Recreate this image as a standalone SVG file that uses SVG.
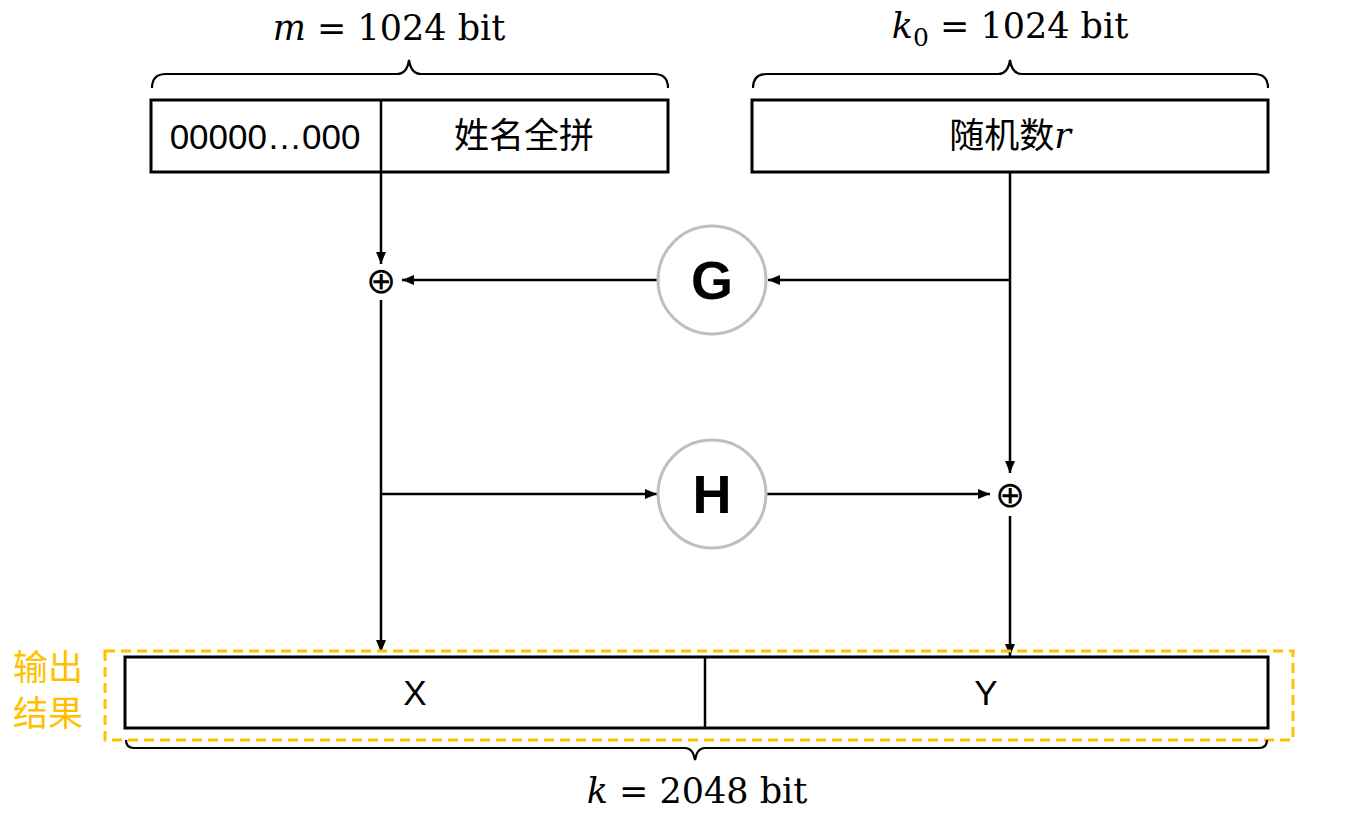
<svg xmlns="http://www.w3.org/2000/svg" width="1370" height="823" viewBox="0 0 1370 823">
<defs>
<marker id="ah" markerWidth="12" markerHeight="10" refX="12" refY="5" orient="auto" markerUnits="userSpaceOnUse">
<path d="M0,0 L12,5 L0,10 Z" fill="#000"/>
</marker>
<style>
.box{fill:#fff;stroke:#000;stroke-width:3}
.ln{fill:none;stroke:#000;stroke-width:2.5}
.br{fill:none;stroke:#000;stroke-width:2.2}
.sans{font-family:"Liberation Sans","Noto Sans CJK SC",sans-serif;font-size:35px;fill:#000}
.cjk{font-family:"Noto Sans CJK SC",sans-serif;font-size:35px;fill:#000}
.math{font-family:"DejaVu Serif","Liberation Serif",serif;font-size:35px;fill:#000}
.circ{fill:#fff;stroke:#bfbfbf;stroke-width:3}
.big{font-family:"Liberation Sans",Arial,sans-serif;font-weight:bold;font-size:54px;fill:#000}
.xor{font-family:"DejaVu Sans",sans-serif;font-size:36px;fill:#000}
.out{font-family:"Noto Sans CJK SC",sans-serif;font-size:35px;fill:#FFC000}
</style>
</defs>
<rect width="1370" height="823" fill="#fff"/>

<g id="connectors">
<line class="ln" x1="381" y1="172" x2="381" y2="264" marker-end="url(#ah)"/>
<line class="ln" x1="658" y1="280" x2="402" y2="280" marker-end="url(#ah)"/>
<line class="ln" x1="1010" y1="172" x2="1010" y2="473" marker-end="url(#ah)"/>
<line class="ln" x1="1010" y1="280" x2="768" y2="280" marker-end="url(#ah)"/>
<line class="ln" x1="381" y1="300" x2="381" y2="652" marker-end="url(#ah)"/>
<line class="ln" x1="381" y1="494" x2="657" y2="494" marker-end="url(#ah)"/>
<line class="ln" x1="767" y1="494" x2="990" y2="494" marker-end="url(#ah)"/>
<line class="ln" x1="1010" y1="516" x2="1010" y2="656" marker-end="url(#ah)"/>
</g>

<g id="top-left">
<path class="br" d="M152,88 Q152,74 166,74 L397,74 Q407,74 409,60 Q411,74 421,74 L654,74 Q668,74 668,88"/>
<text class="math" x="389" y="40" text-anchor="middle"><tspan font-style="italic">m</tspan> = 1024 bit</text>
<rect class="box" x="151" y="100" width="517" height="72"/>
<line class="ln" x1="381" y1="100" x2="381" y2="172"/>
<text class="sans" x="265" y="149" text-anchor="middle">00000…000</text>
<text class="cjk" x="524" y="148" text-anchor="middle">姓名全拼</text>
</g>

<g id="top-right">
<path class="br" d="M753,88 Q753,74 767,74 L998,74 Q1008,74 1010,60 Q1012,74 1022,74 L1254,74 Q1268,74 1268,88"/>
<text class="math" x="1010" y="38" text-anchor="middle"><tspan font-style="italic">k</tspan><tspan font-size="25" dy="8">0</tspan><tspan dy="-8"> = 1024 bit</tspan></text>
<rect class="box" x="752" y="100" width="516" height="72"/>
<text class="cjk" x="1010" y="148" text-anchor="middle">随机数<tspan class="math" font-style="italic">r</tspan></text>
</g>

<g id="xor1"><text class="xor" x="381" y="293" text-anchor="middle">⊕</text></g>
<g id="xor2"><text class="xor" x="1010" y="507" text-anchor="middle">⊕</text></g>

<g id="G">
<circle class="circ" cx="712" cy="280" r="54"/>
<text class="big" x="712" y="299" text-anchor="middle">G</text>
</g>
<g id="H">
<circle class="circ" cx="712" cy="494" r="54"/>
<text class="big" x="712" y="513" text-anchor="middle">H</text>
</g>

<g id="output">
<rect class="box" x="125" y="657" width="1143" height="71"/>
<line class="ln" x1="705" y1="657" x2="705" y2="728"/>
<text class="sans" x="415" y="705" text-anchor="middle">X</text>
<text class="sans" x="986" y="705" text-anchor="middle">Y</text>
<rect x="105" y="651" width="1188" height="89" fill="none" stroke="#FFC000" stroke-width="3" stroke-dasharray="10,6"/>
<text class="out" x="48" y="680" text-anchor="middle">输出</text>
<text class="out" x="48" y="726" text-anchor="middle">结果</text>
<path class="br" d="M126,740 Q126,748 134,748 L685,748 Q693,748 695,760 Q697,748 705,748 L1259,748 Q1267,748 1267,740"/>
<text class="math" x="697" y="803" text-anchor="middle"><tspan font-style="italic">k</tspan> = 2048 bit</text>
</g>
</svg>
